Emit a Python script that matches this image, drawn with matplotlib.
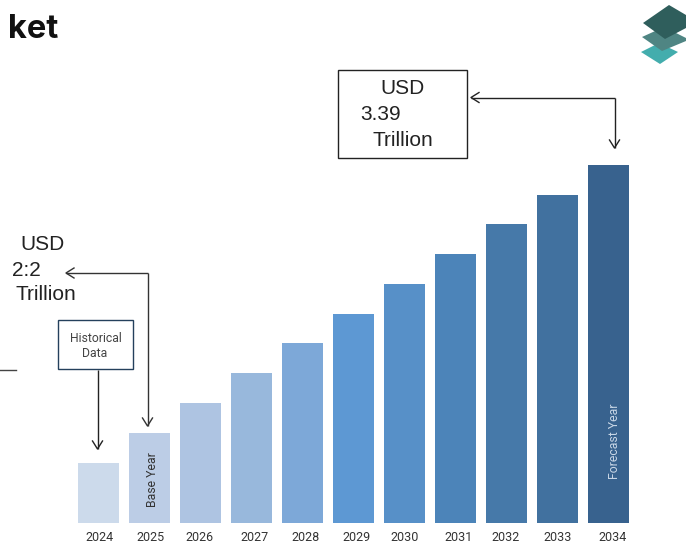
import matplotlib
matplotlib.use("Agg")
import matplotlib.pyplot as plt
from matplotlib.patches import Polygon, Rectangle

# bar heights are only relative, the source chart has no y scale
years = ['2024', '2025', '2026', '2027', '2028', '2029', '2030', '2031', '2032', '2033', '2034']
heights = [60, 90, 120, 150, 180, 209, 239, 269, 299, 328, 358]
bar_colors = ['#ccdaeb', '#bccde6', '#aec4e2', '#98b8dc', '#7da8d8', '#5d98d3',
              '#5790c8', '#4c84b9', '#4679a9', '#41719f', '#38628e']
# the year labels do not sit quite under the bars in the source
label_shift = [1.5, 1.5, -0.5, 3, 3, 3, 0, 3, -1, 0, 4]

plt.rcParams['font.family'] = ['Roboto', 'DejaVu Sans']

W, H = 686, 544
fig = plt.figure(figsize=(W / 100, H / 100), dpi=100, facecolor='white')

# bars
ax = fig.add_axes([0, (H - 523) / H, 1, 523 / H])
ax.bar(range(len(years)), heights, width=41 / 51, color=bar_colors)
ax.set_xlim(-98.5 / 51, (W - 98.5) / 51)
ax.set_ylim(0, 523)
ax.set_yticks([])
ax.set_xticks([i + s / 51 for i, s in enumerate(label_shift)])
ax.set_xticklabels(years, fontsize=9, color='#333333')
ax.tick_params(axis='x', length=0, pad=6)
for s in ax.spines.values():
    s.set_visible(False)
ax.patch.set_alpha(0)

# overlay in pixel coordinates for the notes
ov = fig.add_axes([0, 0, 1, 1])
ov.set_xlim(0, W)
ov.set_ylim(H, 0)
ov.axis('off')
ov.patch.set_alpha(0)


def arrow(points, color='#222222'):
    for a, b in zip(points[:-1], points[1:]):
        ov.plot([a[0], b[0]], [a[1], b[1]], color=color, lw=1, solid_capstyle='butt')


def head(x, y, dx, dy, color='#222222'):
    # open arrow head, tip at x,y pointing along dx,dy
    size = 8
    ov.plot([x - dx * size + dy * 5, x, x - dx * size - dy * 5],
            [y - dy * size + dx * 5, y, y - dy * size - dx * 5],
            color=color, lw=1)


ov.text(8, 38, 'ket', fontsize=23.5, fontweight='bold', family=['Inter', 'DejaVu Sans'],
        color='#111111', va='baseline')

# big box on the right
big = dict(fontsize=15, ha='center', va='center', color='#222222',
           family=['Liberation Sans', 'DejaVu Sans'])
ov.add_patch(Rectangle((338, 70), 129, 88, fc='white', ec='#222222', lw=1))
ov.text(402, 89, 'USD', **big)
ov.text(381, 114, '3.39', **big)
ov.text(403, 140, 'Trillion', **big)
arrow([(471, 97.5), (614.5, 97.5), (614.5, 148)])
head(471, 97.5, -1, 0)
head(614.5, 148, 0, 1)

# left note
ov.text(43, 244, 'USD', **big)
ov.text(26.5, 270, '2:2', **big)
ov.text(46, 295, 'Trillion', **big)
arrow([(66, 273), (147.5, 273), (147.5, 426)], '#333333')
head(66, 273, -1, 0, '#333333')
head(147.5, 426, 0, 1, '#333333')

ov.add_patch(Rectangle((58, 320), 75, 49, fc='white', ec='#24405c', lw=1))
ov.text(96, 338, 'Historical', fontsize=8.8, ha='center', va='center', color='#444444')
ov.text(95, 353.5, 'Data', fontsize=8.8, ha='center', va='center', color='#444444')
arrow([(97.5, 370), (97.5, 449)])
head(97.5, 449, 0, 1)

ov.plot([0, 16], [369.5, 369.5], color='#444444', lw=1)

ov.text(152, 480, 'Base Year', fontsize=8.8, rotation=90, ha='center', va='center', color='#333333')
ov.text(614, 441, 'Forecast Year', fontsize=8.8, rotation=90, ha='center', va='center', color='#c8d6e6')

# logo, three stacked layers
ov.add_patch(Polygon([(641, 52), (659, 43), (678, 52), (660, 64)], fc='#43adad', ec='none'))
ov.add_patch(Polygon([(642, 37), (664, 27), (686, 38), (686, 41), (662, 51)], fc='#4f8583', ec='none'))
ov.add_patch(Polygon([(643, 23), (669, 5), (686, 15), (686, 28), (665, 39)], fc='#2f5e5c', ec='none'))

fig.savefig('out.png', dpi=100, facecolor='white')
